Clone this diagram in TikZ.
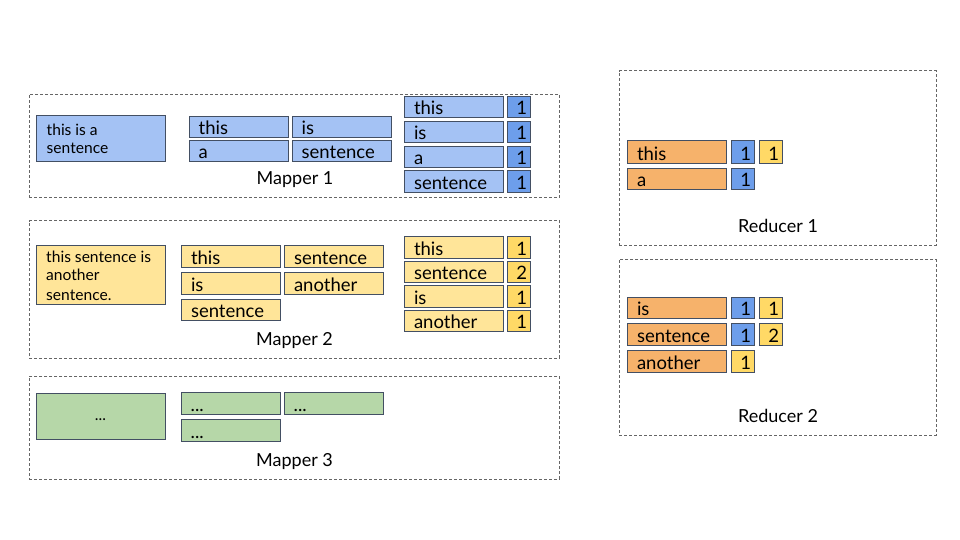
\documentclass[tikz,border=0pt]{standalone}
\usepackage{fontspec}
\setmainfont{Lato}
\usetikzlibrary{fit}
\definecolor{bdr}{HTML}{434F63}
\definecolor{dgray}{HTML}{666666}
\definecolor{lblue}{HTML}{A4C2F4}
\definecolor{dblue}{HTML}{6D9EEB}
\definecolor{lyel}{HTML}{FFE599}
\definecolor{dyel}{HTML}{FFD966}
\definecolor{lgreen}{HTML}{B6D7A8}
\definecolor{orng}{HTML}{F6B26B}
\tikzset{
  box/.style={draw=bdr, line width=1pt, inner sep=0pt},
  cont/.style={draw=dgray, dash pattern=on 3pt off 2pt, line width=0.8pt, inner sep=0pt},
  wtxt/.style={font=\fontsize{18.5}{21}\selectfont, inner sep=0pt, text=black},
  stxt/.style={font=\fontsize{15.6}{18}\selectfont, inner sep=0pt, text=black},
  lbl/.style={font=\fontsize{18}{20}\selectfont, inner sep=0pt, text=black},
}
% word box: name, x1, y1, x2, y2, fill, text
\newcommand\wbox[7]{%
  \node[box,fill=#6,fit={(#2,#3)(#4,#5)}] (#1) {};
  \node[wtxt,anchor=base west] (#1-t) at ([xshift=10pt,yshift=3.5pt]#1.south west) {#7};}
% number box
\newcommand\nbox[7]{%
  \node[box,fill=#6,fit={(#2,#3)(#4,#5)}] (#1) {};
  \node[wtxt,anchor=base east] (#1-t) at ([xshift=-4pt,yshift=3.5pt]#1.south east) {#7};}
\begin{document}
\begin{tikzpicture}[x=1pt,y=-1pt]
\useasboundingbox (0,0) rectangle (960,540);
% containers
\node[cont,fit={(29.3,94)(559.3,197.7)}] (M1) {};
\node[cont,fit={(29.3,220.7)(559.3,358.3)}] (M2) {};
\node[cont,fit={(29.3,376)(559.3,479)}] (M3) {};
\node[cont,fit={(619.3,70.7)(936,245)}] (R1) {};
\node[cont,fit={(619.3,259.3)(936,435)}] (R2) {};
\node[lbl,anchor=base] (M1l) at (295,184.3) {Mapper 1};
\node[lbl,anchor=base] (M2l) at (294.5,345) {Mapper 2};
\node[lbl,anchor=base] (M3l) at (294.5,466) {Mapper 3};
\node[lbl,anchor=base] (R1l) at (778,232.7) {Reducer 1};
\node[lbl,anchor=base] (R2l) at (778,422.3) {Reducer 2};
% ---- Mapper 1
\node[box,fill=lblue,fit={(36,115.7)(165,162)}] (i1) {};
\node[stxt,anchor=base west] (i1a) at (46.5,135.7) {this is a};
\node[stxt,anchor=base west] (i1b) at (46.5,154) {sentence};
\wbox{a1}{189}{116.7}{288}{137.7}{lblue}{this}
\wbox{a2}{292}{116.7}{391}{137.7}{lblue}{is}
\wbox{a3}{189}{140.7}{288}{162}{lblue}{a}
\wbox{a4}{292}{140.7}{391}{162}{lblue}{sentence}
\wbox{b1}{404.3}{96.5}{503.7}{118}{lblue}{this}
\wbox{b2}{404.3}{121.3}{503.7}{142.8}{lblue}{is}
\wbox{b3}{404.3}{146.1}{503.7}{167.6}{lblue}{a}
\wbox{b4}{404.3}{170.9}{503.7}{192.4}{lblue}{sentence}
\nbox{c1}{507.7}{96.5}{530.7}{118}{dblue}{1}
\nbox{c2}{507.7}{121.3}{530.7}{142.8}{dblue}{1}
\nbox{c3}{507.7}{146.1}{530.7}{167.6}{dblue}{1}
\nbox{c4}{507.7}{170.9}{530.7}{192.4}{dblue}{1}
% ---- Mapper 2
\node[box,fill=lyel,fit={(36,245.7)(165,304.3)}] (i2) {};
\node[stxt,anchor=base west] (i2a) at (46,262.3) {this sentence is};
\node[stxt,anchor=base west] (i2b) at (46,280.7) {another};
\node[stxt,anchor=base west] (i2c) at (46,300) {sentence.};
\wbox{d1}{181.3}{245.7}{280.3}{267.3}{lyel}{this}
\wbox{d2}{284.3}{245.7}{383.3}{267.3}{lyel}{sentence}
\wbox{d3}{181.3}{272.3}{280.3}{294.3}{lyel}{is}
\wbox{d4}{284.3}{272.3}{383.3}{294.3}{lyel}{another}
\wbox{d5}{181.3}{299.3}{280.3}{320.3}{lyel}{sentence}
\wbox{e1}{404.3}{236.7}{503.7}{258.3}{lyel}{this}
\wbox{e2}{404.3}{261.7}{503.7}{282.7}{lyel}{sentence}
\wbox{e3}{404.3}{285.3}{503.7}{307}{lyel}{is}
\wbox{e4}{404.3}{310.3}{503.7}{331.7}{lyel}{another}
\nbox{f1}{507.7}{236.7}{530.7}{258.3}{dyel}{1}
\nbox{f2}{507.7}{261.7}{530.7}{282.7}{dyel}{2}
\nbox{f3}{507.7}{285.3}{530.7}{307}{dyel}{1}
\nbox{f4}{507.7}{310.3}{530.7}{331.7}{dyel}{1}
% ---- Mapper 3
\node[box,fill=lgreen,fit={(36,393)(165,439)}] (i3) {};
\node[stxt,anchor=base] (i3a) at (100.5,420) {...};
\wbox{g1}{181}{392}{280}{414}{lgreen}{...}
\wbox{g2}{284}{392}{383}{414}{lgreen}{...}
\wbox{g3}{181}{419}{280}{441}{lgreen}{...}
% ---- Reducer 1
\wbox{r1}{627.3}{141}{726.7}{163.3}{orng}{this}
\wbox{r2}{627.3}{168.3}{726.7}{189.7}{orng}{a}
\nbox{s1}{731}{141}{754.7}{163.3}{dblue}{1}
\nbox{s2}{759.3}{141}{782.7}{163.3}{dyel}{1}
\nbox{s3}{731}{168.3}{754.7}{189.7}{dblue}{1}
% ---- Reducer 2
\wbox{r3}{627.3}{297.3}{726.7}{318.3}{orng}{is}
\wbox{r4}{627.3}{323.3}{726.7}{345.7}{orng}{sentence}
\wbox{r5}{627.3}{350.7}{726.7}{372.7}{orng}{another}
\nbox{t1}{731}{297.3}{754.7}{318.3}{dblue}{1}
\nbox{t2}{759.3}{297.3}{782.7}{318.3}{dyel}{1}
\nbox{t3}{731}{323.3}{754.7}{345.7}{dblue}{1}
\nbox{t4}{759.3}{323.3}{782.7}{345.7}{dyel}{2}
\nbox{t5}{731}{350.7}{754.7}{372.7}{dyel}{1}
\end{tikzpicture}
\end{document}
